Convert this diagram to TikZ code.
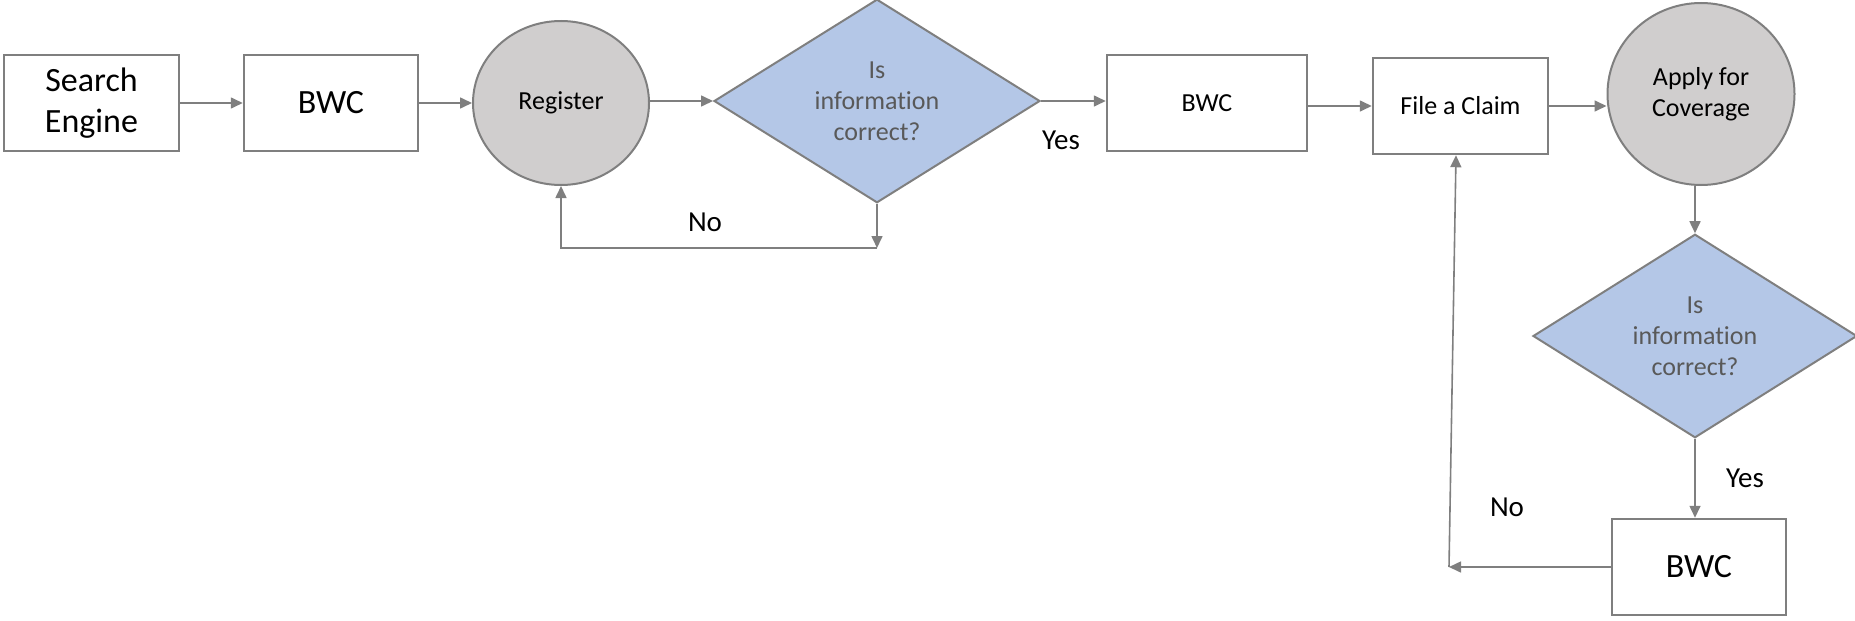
\documentclass[tikz,border=0pt]{standalone}
\usepackage{fontspec}
\setmainfont{Carlito}[Ligatures=NoCommon]
\usepackage{tikz}
\definecolor{linegray}{RGB}{127,127,127}
\definecolor{circlegray}{RGB}{208,206,206}
\definecolor{askblue}{RGB}{180,199,231}
\definecolor{asktext}{RGB}{89,89,89}
\usetikzlibrary{calc,shapes.geometric,arrows.meta}
\tikzset{
    box/.style={draw=linegray, line width=2.5pt, fill=white, rectangle,
        minimum width=#1, minimum height=96pt, inner sep=0pt, align=center},
    box/.default=175pt,
    bigtext/.style={font=\fontsize{34}{41}\selectfont},
    smalltext/.style={font=\fontsize{26}{31}\selectfont},
    roundstep/.style={draw=linegray, line width=2pt, fill=circlegray, ellipse,
        inner sep=0pt, align=center, smalltext},
    ask/.style={draw=linegray, line width=2pt, fill=askblue, diamond,
        minimum width=326pt, minimum height=197pt, inner sep=0pt, align=center,
        text=asktext, smalltext},
    answer/.style={font=\fontsize{29}{35}\selectfont},
    flow/.style={draw=linegray, line width=1.6pt, -{Triangle[length=12pt,width=11pt]}}
}

\begin{document}
\begin{tikzpicture}[x=1pt, y=-1pt]
    \useasboundingbox (0,0) rectangle (1855,621);
    % top row
    \node[box, bigtext]               (search)   at (91.5,103) {Search\\Engine};
    \node[box=174pt, bigtext]         (bwcA)     at (331,103)  {BWC};
    \node[roundstep, minimum width=176pt, minimum height=164pt] (register) at (561,103) {Register};
    \node[ask]                        (checkA)   at (877,101)  {Is\\information\\correct?};
    \node[box=200pt, smalltext]       (bwcB)     at (1207,103) {BWC};
    \node[box, smalltext]             (claim)    at (1460.5,106) {File a Claim};
    \node[roundstep, minimum width=187pt, minimum height=182pt] (apply) at (1701,94) {Apply for\\Coverage};
    % right column
    \node[ask, minimum width=324pt, minimum height=196pt] (checkB) at (1695,336) {Is\\information\\correct?};
    \node[box=174pt, bigtext]         (bwcC)     at (1699,567) {BWC};
    % answers
    \node[answer] (noA)  at (705,222)  {No};
    \node[answer] (yesA) at (1061,140) {Yes};
    \node[answer] (yesB) at (1745,478) {Yes};
    \node[answer] (noB)  at (1507,507) {No};
    % turning points
    \coordinate (turnA) at (877,248);
    \coordinate (turnB) at (1449,567);

    \draw[flow] (search.east) -- (bwcA.west);
    \draw[flow] (bwcA.east) -- (register.west);
    \draw[flow] (register.east |- checkA.west) -- (checkA.west);
    \draw[flow] (checkA.east) -- (checkA.east -| bwcB.west);
    \draw[flow] (bwcB.east |- claim.west) -- (claim.west);
    \draw[flow] (claim.east) -- (claim.east -| apply.west);
    \draw[flow] (apply.south -| checkB.north) -- (checkB.north);
    \draw[flow] (checkB.south) -- (checkB.south |- bwcC.north);
    \draw[flow] (checkA.south) -- (turnA);
    \draw[flow] (turnA) -- (register.south |- turnA) -- (register.south);
    \draw[flow] (bwcC.west) -- (turnB);
    \draw[flow] (turnB) -- ($(claim.south)+(-4.5,0)$);
\end{tikzpicture}
\end{document}
